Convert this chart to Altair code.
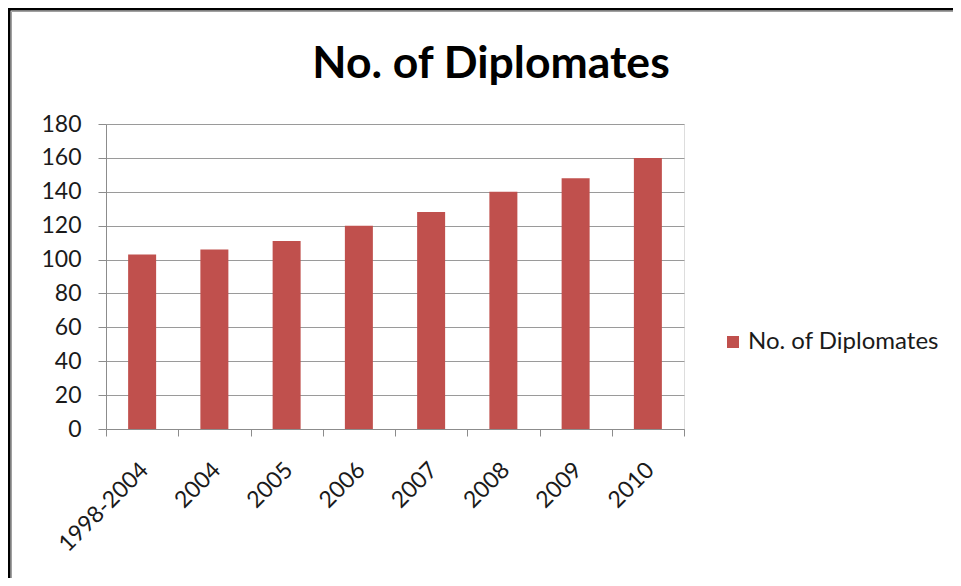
import altair as alt
import pandas as pd

categories = ["1998-2004", "2004", "2005", "2006", "2007", "2008", "2009", "2010"]
values = [103, 106, 111, 120, 128, 140, 148, 160]
series_name = "No. of Diplomates"

df = pd.DataFrame({"year": categories, "count": values, "series": [series_name] * len(categories)})
frame_df = pd.DataFrame({"k": [0]})

FONT = "Lato"

bars = alt.Chart(df).mark_bar(size=28).encode(
    x=alt.X("year:N", sort=categories, title=None,
            scale=alt.Scale(paddingInner=0, paddingOuter=0),
            axis=alt.Axis(labelAngle=315, labelAlign="right", labelBaseline="middle",
                          labelOffset=2, labelPadding=30, tickBand="extent",
                          tickSize=7, tickColor="#8c8c8c", domainColor="#8c8c8c",
                          grid=False, labelFont=FONT, labelFontSize=23, labelColor="#1a1a1a")),
    y=alt.Y("count:Q", title=None,
            scale=alt.Scale(domain=[0, 180], nice=False),
            axis=alt.Axis(values=list(range(0, 181, 20)), tickSize=8, tickColor="#8c8c8c",
                          domainColor="#8c8c8c", gridColor="#9a9a9a", gridWidth=1.2,
                          labelPadding=17, labelFont=FONT, labelFontSize=23, labelColor="#1a1a1a")),
    color=alt.Color("series:N", scale=alt.Scale(range=["#C0504D"]),
                    legend=alt.Legend(title=None, orient="none", legendX=615, legendY=206,
                                      symbolType="square", symbolSize=144, symbolStrokeWidth=0,
                                      labelFont=FONT, labelFontSize=24, labelColor="#1a1a1a",
                                      labelOffset=3, labelLimit=400, padding=0)),
)

outer = alt.Chart(frame_df).mark_rect(fill=None, stroke="black", strokeWidth=3).encode(
    x=alt.value(-97), x2=alt.value(860), y=alt.value(-115), y2=alt.value(470))
inner = alt.Chart(frame_df).mark_rect(fill=None, stroke="#a0a0a0", strokeWidth=1).encode(
    x=alt.value(-94.5), x2=alt.value(860), y=alt.value(-112.5), y2=alt.value(470))

chart = alt.layer(bars, outer, inner).properties(
    width=578, height=305,
    title=alt.TitleParams(series_name, font=FONT, fontSize=44.5, fontWeight="bold",
                          color="black", anchor="middle", dx=96, offset=-115,
                          baseline="alphabetic"),
    autosize=alt.AutoSizeParams(type="none"),
    padding={"left": 98, "top": 116, "right": 269, "bottom": 149},
).configure_view(stroke=None).configure(background="white")

chart.save("out.html", embed_options={"renderer": "svg", "actions": False})
